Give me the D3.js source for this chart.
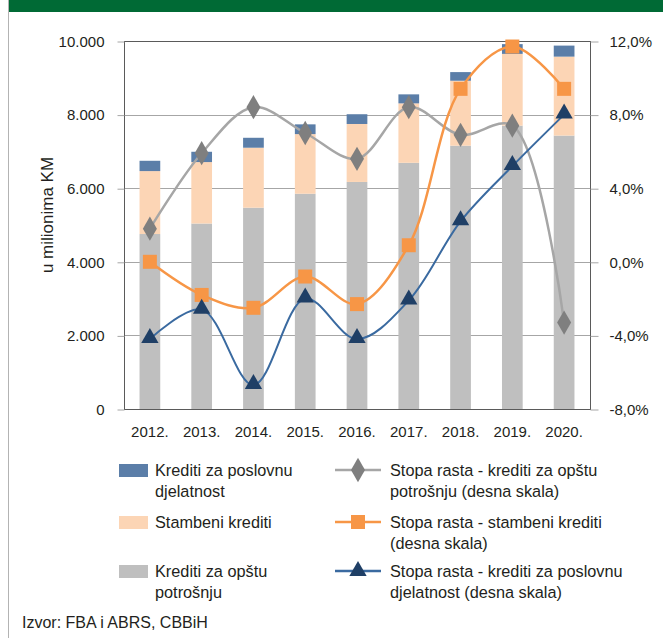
<!DOCTYPE html>
<html lang="bs">
<head>
<meta charset="utf-8">
<title>Krediti stanovništvu</title>
<script src="https://cdn.jsdelivr.net/npm/d3@7"></script>
<style>
  body { margin: 0; background: #fff; }
  svg text { font-family: "Liberation Sans", Arial, sans-serif; fill: #231f20; }
</style>
</head>
<body>
<script>
// chart data (u milionima KM, stope rasta u %)
var years = ["2012.", "2013.", "2014.", "2015.", "2016.", "2017.", "2018.", "2019.", "2020."];
var opstaPotrosnja = [4755, 5040, 5470, 5850, 6170, 6690, 7155, 7700, 7430];
var stambeni = [1710, 1670, 1630, 1620, 1575, 1615, 1765, 1950, 2145];
var poslovna = [280, 280, 270, 265, 265, 245, 235, 265, 300];
var rastOpsta = [1.8, 5.9, 8.4, 7.0, 5.6, 8.4, 6.9, 7.4, -3.3];
var rastStambeni = [0.0, -1.8, -2.5, -0.8, -2.3, 0.9, 9.4, 11.7, 9.4];
var rastPoslovna = [-4.2, -2.6, -6.7, -2.0, -4.2, -2.1, 2.2, 5.2, 8.0];
var leftTicks = [0, 2000, 4000, 6000, 8000, 10000];
var rightTicks = [-8, -4, 0, 4, 8, 12];

var W = 663, H = 638;
var plot = {left: 124, right: 590, top: 41, bottom: 409};

var svg = d3.select("body").append("svg")
  .attr("width", W)
  .attr("height", H);

// frame of the page
svg.append("rect").attr("x", 8).attr("y", 0).attr("width", W - 8).attr("height", 12).attr("fill", "#006a35");
svg.append("line").attr("x1", 8.5).attr("x2", 8.5).attr("y1", 0).attr("y2", H)
  .attr("stroke", "#b3b3b3").attr("stroke-width", 1);

var x = d3.scaleBand().domain(years).range([plot.left, plot.right]).paddingInner(0.6).paddingOuter(0.3);
var xc = function(i) { return x(years[i]) + x.bandwidth() / 2; };
var yL = d3.scaleLinear().domain([0, 10000]).range([plot.bottom, plot.top]);
var yR = d3.scaleLinear().domain([-8, 12]).range([plot.bottom, plot.top]);

// gridlines
svg.append("g").selectAll("line")
  .data(leftTicks.slice(1, -1))
  .enter().append("line")
  .attr("x1", plot.left).attr("x2", plot.right)
  .attr("y1", function(d) { return Math.round(yL(d)) + 0.5; })
  .attr("y2", function(d) { return Math.round(yL(d)) + 0.5; })
  .attr("stroke", "#a6a6a6").attr("stroke-width", 1);

// stacked bars
var stackData = years.map(function(y, i) {
  return {year: y, opsta: opstaPotrosnja[i], stambeni: stambeni[i], poslovna: poslovna[i]};
});
var stack = d3.stack().keys(["opsta", "stambeni", "poslovna"]);
var barColors = {opsta: "#bfbfbf", stambeni: "#fcd5b5", poslovna: "#5b7ea8"};
svg.append("g").selectAll("g")
  .data(stack(stackData))
  .enter().append("g")
  .attr("fill", function(s) { return barColors[s.key]; })
  .selectAll("rect")
  .data(function(s) { return s; })
  .enter().append("rect")
  .attr("x", function(d) { return x(d.data.year); })
  .attr("width", x.bandwidth())
  .attr("y", function(d) { return yL(d[1]); })
  .attr("height", function(d) { return yL(d[0]) - yL(d[1]); });

// plot frame
svg.append("rect")
  .attr("x", plot.left + 0.5).attr("y", plot.top + 0.5)
  .attr("width", plot.right - plot.left).attr("height", plot.bottom - plot.top)
  .attr("fill", "none").attr("stroke", "#5a5a5a").attr("stroke-width", 1);

// axes
var leftAxis = d3.axisLeft(yL).tickValues(leftTicks).tickSize(7).tickPadding(13)
  .tickFormat(function(d) { return d === 0 ? "0" : d3.format(",")(d).replace(/,/g, "."); });
var gL = svg.append("g").attr("transform", "translate(" + (plot.left + 0.5) + ",0.5)").call(leftAxis);
var rightAxis = d3.axisRight(yR).tickValues(rightTicks).tickSize(8).tickPadding(11)
  .tickFormat(function(d) { return d3.format(".1f")(d).replace(".", ",").replace("−", "-") + "%"; });
var gR = svg.append("g").attr("transform", "translate(" + (plot.right + 0.5) + ",0.5)").call(rightAxis);
var xAxis = d3.axisBottom(x).tickSize(0).tickPadding(17);
var gX = svg.append("g").attr("transform", "translate(0," + plot.bottom + ")").call(xAxis);
[gL, gR, gX].forEach(function(g) {
  g.select(".domain").remove();
  g.selectAll(".tick line").attr("stroke", "#a6a6a6");
  g.selectAll("text").attr("font-size", 15).attr("fill", "#231f20")
    .style("font-family", "'Liberation Sans', Arial, sans-serif");
});

svg.append("text")
  .attr("transform", "translate(47,215) rotate(-90)")
  .attr("text-anchor", "middle")
  .attr("dominant-baseline", "central")
  .attr("font-size", 17)
  .text("u milionima KM");

// lines (right scale)
var smooth = d3.line().curve(d3.curveCatmullRom.alpha(0.5));
function lineSeries(vals, color, w) {
  svg.append("path")
    .attr("d", smooth(vals.map(function(v, i) { return [xc(i), yR(v)]; })))
    .attr("fill", "none").attr("stroke", color).attr("stroke-width", w);
}
lineSeries(rastOpsta, "#a6a6a6", 2.5);
lineSeries(rastStambeni, "#f79646", 2.5);
lineSeries(rastPoslovna, "#3a6aa0", 2);

var symDiamond = d3.symbol().type(d3.symbolDiamond).size(170);
var symSquare = d3.symbol().type(d3.symbolSquare).size(196);
var symTriangle = d3.symbol().type(d3.symbolTriangle).size(130);

function markers(vals, sym, color, dy) {
  svg.append("g").selectAll("path")
    .data(vals)
    .enter().append("path")
    .attr("d", sym)
    .attr("transform", function(d, i) { return "translate(" + xc(i) + "," + (yR(d) + (dy || 0)) + ")"; })
    .attr("fill", color);
}
markers(rastOpsta, symDiamond, "#7f7f7f");
markers(rastStambeni, symSquare, "#f79646");
markers(rastPoslovna, symTriangle, "#1f3f66", -1);

// legend
var legendBars = [
  {key: "poslovna", lines: ["Krediti za poslovnu", "djelatnost"], y: 470},
  {key: "stambeni", lines: ["Stambeni krediti"], y: 522},
  {key: "opsta", lines: ["Krediti za opštu", "potrošnju"], y: 571}
];
var lb = svg.append("g").selectAll("g").data(legendBars).enter().append("g");
lb.append("rect")
  .attr("x", 119).attr("y", function(d) { return d.y - 6; })
  .attr("width", 29).attr("height", 13)
  .attr("fill", function(d) { return barColors[d.key]; });
lb.append("text")
  .attr("font-size", 16.3)
  .selectAll("tspan").data(function(d) { return d.lines.map(function(t, j) { return {t: t, y: d.y + j * 21}; }); })
  .enter().append("tspan")
  .attr("x", 155).attr("y", function(d) { return d.y + 6; })
  .text(function(d) { return d.t; });

var legendLines = [
  {color: "#a6a6a6", mcolor: "#7f7f7f", sym: symDiamond, lines: ["Stopa rasta - krediti za opštu", "potrošnju (desna skala)"], y: 470},
  {color: "#f79646", mcolor: "#f79646", sym: symSquare, lines: ["Stopa rasta - stambeni krediti", "(desna skala)"], y: 522},
  {color: "#3a6aa0", mcolor: "#1f3f66", sym: symTriangle, lines: ["Stopa rasta - krediti za poslovnu", "djelatnost (desna skala)"], y: 571}
];
var ll = svg.append("g").selectAll("g").data(legendLines).enter().append("g");
ll.append("line")
  .attr("x1", 335).attr("x2", 381)
  .attr("y1", function(d) { return d.y; }).attr("y2", function(d) { return d.y; })
  .attr("stroke", function(d) { return d.color; }).attr("stroke-width", 2.5);
ll.append("path")
  .attr("d", function(d) { return d.sym(); })
  .attr("transform", function(d) { return "translate(358," + d.y + ")"; })
  .attr("fill", function(d) { return d.mcolor; });
ll.append("text")
  .attr("font-size", 16.3)
  .selectAll("tspan").data(function(d) { return d.lines.map(function(t, j) { return {t: t, y: d.y + j * 21}; }); })
  .enter().append("tspan")
  .attr("x", 390).attr("y", function(d) { return d.y + 6; })
  .text(function(d) { return d.t; });

svg.append("text")
  .attr("x", 22).attr("y", 628)
  .attr("font-size", 16)
  .text("Izvor: FBA i ABRS, CBBiH");
</script>
</body>
</html>
